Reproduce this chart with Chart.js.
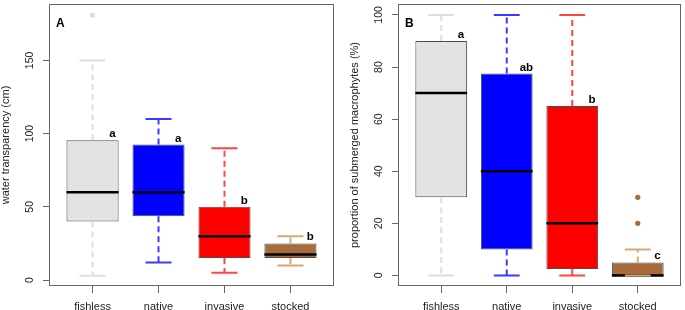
<!DOCTYPE html>
<html>
<head>
<meta charset="utf-8">
<script src="https://cdn.jsdelivr.net/npm/chart.js@4.4.1/dist/chart.umd.min.js"></script>
<style>
  html, body { margin: 0; padding: 0; background: #fff; }
  #wrap { position: relative; width: 685px; height: 310px; }
  canvas { position: absolute; top: 0; }
</style>
</head>
<body>
<div id="wrap">
  <canvas id="panelA" width="342" height="310" style="left:0"></canvas>
  <canvas id="panelB" width="343" height="310" style="left:342px"></canvas>
</div>
<script>
const groups = ['fishless', 'native', 'invasive', 'stocked'];

// panel A: water transparency (cm)
const aLow = [3, 12, 5, 10];
const aQ1 = [40, 43.5, 15, 15];
const aMed = [60, 60, 30, 17.5];
const aQ3 = [95.5, 92.5, 50, 25];
const aHigh = [150, 110, 90, 30];
const aOutliers = [[181], [], [], []];
const aLetters = ['a', 'a', 'b', 'b'];
const aTicks = [0, 50, 100, 150];

// panel B: submerged macrophytes (%)
const bLow = [0, 0, 0, 0];
const bQ1 = [30, 10, 2.5, 0];
const bMed = [70, 40, 20, 0];
const bQ3 = [90, 77.5, 65, 5];
const bHigh = [100, 100, 100, 10];
const bOutliers = [[], [], [], [20, 30]];
const bLetters = ['a', 'ab', 'b', 'c'];
const bTicks = [0, 20, 40, 60, 80, 100];

const fills = ['#e3e3e3', '#0000ff', '#ff0000', '#a86b3b'];
const whiskerColors = ['#dedede', '#3b3bff', '#ff4646', '#d9a679'];
const outlierColors = ['#dcdcdc', '#0000ff', '#ff0000', '#a86b3b'];

const FONT = '"Liberation Sans", Arial, sans-serif';

function makePanel(id, o) {
  const boxPlugin = {
    id: 'boxExtras',
    afterDatasetsDraw(chart) {
      const ctx = chart.ctx;
      const x = chart.scales.x, y = chart.scales.y;
      const bars = chart.getDatasetMeta(0).data;
      ctx.save();
      groups.forEach((g, i) => {
        const bar = bars[i];
        const cx = bar.x, w = bar.width;
        // median
        ctx.strokeStyle = '#000';
        ctx.lineWidth = 2.5;
        ctx.setLineDash([]);
        ctx.beginPath();
        ctx.moveTo(cx - w / 2, y.getPixelForValue(o.med[i]));
        ctx.lineTo(cx + w / 2, y.getPixelForValue(o.med[i]));
        ctx.stroke();
        // whiskers
        ctx.strokeStyle = whiskerColors[i];
        ctx.lineWidth = 2;
        ctx.setLineDash([6, 4]);
        ctx.beginPath();
        ctx.moveTo(cx, y.getPixelForValue(o.q3[i]));
        ctx.lineTo(cx, y.getPixelForValue(o.high[i]));
        ctx.moveTo(cx, y.getPixelForValue(o.q1[i]));
        ctx.lineTo(cx, y.getPixelForValue(o.low[i]));
        ctx.stroke();
        ctx.setLineDash([]);
        ctx.beginPath();
        [o.high[i], o.low[i]].forEach(v => {
          ctx.moveTo(cx - w / 4, y.getPixelForValue(v));
          ctx.lineTo(cx + w / 4, y.getPixelForValue(v));
        });
        ctx.stroke();
        // letters
        ctx.fillStyle = '#000';
        ctx.font = 'bold 11.5px ' + FONT;
        ctx.textAlign = 'center';
        ctx.textBaseline = 'alphabetic';
        ctx.fillText(o.letters[i], x.getPixelForValue(i + 1.3), y.getPixelForValue(o.q3[i]) - 3);
      });
      ctx.restore();
    },
    afterDraw(chart) {
      const ctx = chart.ctx;
      const a = chart.chartArea;
      const y = chart.scales.y;
      ctx.save();
      // frame
      ctx.strokeStyle = '#666';
      ctx.lineWidth = 1;
      ctx.strokeRect(a.left + 0.5, a.top + 0.5, a.right - a.left - 1, a.bottom - a.top - 1);
      // rotated y tick labels
      ctx.fillStyle = '#222';
      ctx.font = '10.5px ' + FONT;
      ctx.textAlign = 'center';
      ctx.textBaseline = 'middle';
      o.ticks.forEach(v => {
        ctx.save();
        ctx.translate(a.left - 19, y.getPixelForValue(v));
        ctx.rotate(-Math.PI / 2);
        ctx.fillText(String(v), 0, 0);
        ctx.restore();
      });
      // panel letter
      ctx.fillStyle = '#000';
      ctx.font = 'bold 12px ' + FONT;
      ctx.textAlign = 'left';
      ctx.textBaseline = 'alphabetic';
      ctx.fillText(o.panel, a.left + 7, a.top + 22.5);
      ctx.restore();
    }
  };

  const outPoints = [];
  o.out.forEach((vals, i) => vals.forEach(v => outPoints.push({ x: i + 1, y: v })));

  return new Chart(document.getElementById(id), {
    type: 'bar',
    data: {
      datasets: [{
        data: groups.map((g, i) => ({ x: i + 1, y: [o.q1[i], o.q3[i]] })),
        backgroundColor: fills,
        borderColor: '#4d4d4d',
        borderWidth: 1,
        borderSkipped: false,
        categoryPercentage: 1,
        barPercentage: 0.79
      }, {
        type: 'scatter',
        data: outPoints,
        pointRadius: 2.6,
        pointBorderWidth: 0,
        pointBackgroundColor: c => c.raw ? outlierColors[c.raw.x - 1] : '#000'
      }]
    },
    options: {
      responsive: false,
      animation: false,
      layout: { padding: { top: 1, right: o.padRight, left: 0, bottom: 0 } },
      plugins: { legend: { display: false }, tooltip: { enabled: false } },
      scales: {
        x: {
          type: 'linear',
          min: 0.34,
          max: 4.66,
          offset: false,
          afterBuildTicks: s => { s.ticks = groups.map((g, i) => ({ value: i + 1 })); },
          afterFit: s => { s.height = 24; },
          ticks: {
            autoSkip: false,
            maxRotation: 0,
            padding: 7,
            color: '#222',
            font: { family: FONT, size: 11 },
            callback: v => groups[Math.round(v) - 1]
          },
          grid: { display: true, offset: false, drawOnChartArea: false, drawTicks: true, tickLength: 7, color: '#666' },
          border: { display: false }
        },
        y: {
          type: 'linear',
          min: o.min,
          max: o.max,
          afterBuildTicks: s => { s.ticks = o.ticks.map(v => ({ value: v })); },
          afterFit: s => { s.width = o.axisWidth; },
          ticks: { display: false },
          grid: { display: true, drawOnChartArea: false, drawTicks: true, tickLength: 6, color: '#666' },
          border: { display: false },
          title: {
            display: true,
            text: o.title,
            color: '#222',
            font: { family: FONT, size: 11, lineHeight: 1 },
            padding: { top: o.titlePad, bottom: 0 }
          }
        }
      }
    },
    plugins: [boxPlugin]
  });
}

makePanel('panelA', {
  low: aLow, q1: aQ1, med: aMed, q3: aQ3, high: aHigh, out: aOutliers,
  letters: aLetters, ticks: aTicks, min: -4.05, max: 188.5,
  title: 'water transparency (cm)', panel: 'A',
  axisWidth: 49, padRight: 8, titlePad: 0
});

makePanel('panelB', {
  low: bLow, q1: bQ1, med: bMed, q3: bQ3, high: bHigh, out: bOutliers,
  letters: bLetters, ticks: bTicks, min: -4.06, max: 104.2,
  title: 'proportion of submerged macrophytes (%)', panel: 'B',
  axisWidth: 56, padRight: 2, titlePad: 7.5
});
</script>
</body>
</html>
